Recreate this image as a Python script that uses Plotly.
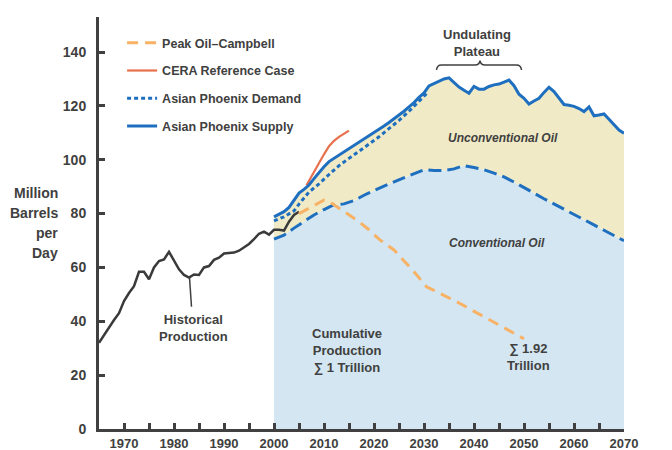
import plotly.graph_objects as go

# ---------------- data ----------------
hist_years = [1965, 1966, 1967, 1968, 1969, 1970, 1971, 1972, 1973, 1974, 1975, 1976, 1977, 1978,
              1979, 1980, 1981, 1982, 1983, 1984, 1985, 1986, 1987, 1988, 1989, 1990, 1991, 1992,
              1993, 1994, 1995, 1996, 1997, 1998, 1999, 2000, 2001, 2002, 2003, 2004, 2005]
hist_values = [32, 35, 38, 40.5, 43, 47.5, 50.5, 53, 58.4, 58.4, 55.6, 60, 62.4, 63,
               65.8, 62.8, 59.3, 57.2, 56.2, 57.4, 57.2, 60, 60.5, 62.8, 63.6, 65.2, 65.3, 65.5,
               66.2, 67.3, 68.7, 70.5, 72.5, 73.3, 72.2, 74, 74, 73.7, 77, 79.5, 80.7]

campbell_years = [2005, 2007, 2010, 2011, 2013, 2015, 2017, 2019, 2021, 2024, 2028, 2030.5, 2032,
                  2037, 2044, 2050]
campbell_values = [80, 82, 85, 84.5, 82, 79.5, 77, 74, 70.5, 66.5, 58.4, 52.8, 51.5,
                   46.8, 39.8, 33.5]

cera_years = [2006.5, 2008, 2009, 2010, 2011, 2012, 2013, 2014, 2015]
cera_values = [90.5, 95.5, 99, 102, 105, 107, 108.5, 109.8, 110.8]

demand_years = [2000, 2002, 2004, 2005, 2007, 2009, 2011, 2013, 2015, 2017, 2019, 2021, 2023,
                2025, 2027, 2029, 2030.5]
demand_values = [77.3, 78.8, 81, 83.5, 88, 91, 94.5, 97.8, 100.5, 103, 105.8, 108.5, 111.5,
                 114.6, 118, 121.8, 124.5]

supply_years = list(range(2000, 2071))
supply_values = [78.8, 79.8, 80.7, 82.3, 85, 87.6, 89, 90.6, 93, 95.3,
                 97.4, 99.3, 100.5, 101.5, 102.6, 103.8, 105, 106.3, 107.6, 108.8,
                 110, 111.2, 112.5, 113.8, 115.1, 116.5, 118, 119.6, 121.2, 123.2,
                 124.8, 127.4, 128.2, 129, 130, 130.4, 128.8, 127, 125.8, 124.7,
                 127.2, 126.2, 126.2, 127.2, 127.8, 128.1, 128.8, 129.6, 127.5, 124.3,
                 122.8, 120.7, 121.8, 122.8, 125, 126.9, 125.3, 122.8, 120.5, 120.2,
                 119.8, 119, 117.9, 119.6, 116.3, 116.6, 117, 115, 113, 111, 109.8]

conv_years = list(range(2000, 2071, 2))
conv_values = [70.5, 72, 74.6, 77, 79.5, 81.5, 83.3, 83.6, 84.8, 86.8,
               88.6, 90.2, 91.8, 93.3, 95, 96.3, 96, 96, 96.6, 97.8,
               97.1, 96.3, 95, 93.6, 91.7, 89.8, 87.6, 85.5, 83.6, 81.8,
               79.9, 78, 75.8, 73.8, 71.8, 69.9]

x_tickvals = list(range(1970, 2071, 5))
x_ticktext = [str(v) if v % 10 == 0 else "" for v in x_tickvals]
y_tickvals = [0, 20, 40, 60, 80, 100, 120, 140]
y_title_lines = ["Million", "Barrels", "per", "Day"]

# ---------------- style ----------------
DARK = "#404040"
BLUE = "#1f6fc0"
FONT = "Liberation Sans, Arial, sans-serif"

fig = go.Figure()

# area fills
fig.add_trace(go.Scatter(x=conv_years, y=conv_values, mode="lines", fill="tozeroy",
                         fillcolor="#d4e6f1", line=dict(width=0), showlegend=False,
                         hoverinfo="skip"))
fig.add_trace(go.Scatter(x=supply_years, y=supply_values, mode="lines", fill="tonexty",
                         fillcolor="#f0ebc6", line=dict(width=0), showlegend=False,
                         hoverinfo="skip"))

# lines
fig.add_trace(go.Scatter(x=hist_years, y=hist_values, mode="lines", name="Historical Production",
                         line=dict(color="#3a3a3a", width=2.5), showlegend=False))
fig.add_trace(go.Scatter(x=conv_years, y=conv_values, mode="lines", name="Conventional",
                         line=dict(color=BLUE, width=3, dash="13px,6px"), showlegend=False))
fig.add_trace(go.Scatter(x=campbell_years, y=campbell_values, mode="lines",
                         name="Peak Oil\u2013Campbell", legendgroup="a", legendrank=1,
                         line=dict(color="#f7b266", width=3, dash="11px,7px")))
fig.add_trace(go.Scatter(x=cera_years, y=cera_values, mode="lines",
                         name="CERA Reference Case", legendgroup="b", legendrank=2,
                         line=dict(color="#e8704c", width=2.2)))
fig.add_trace(go.Scatter(x=demand_years, y=demand_values, mode="lines",
                         name="Asian Phoenix Demand", legendgroup="c", legendrank=3,
                         line=dict(color=BLUE, width=3, dash="4px,3px")))
fig.add_trace(go.Scatter(x=supply_years, y=supply_values, mode="lines",
                         name="Asian Phoenix Supply", legendgroup="d", legendrank=4,
                         line=dict(color=BLUE, width=3)))

# annotations
def ann(text, x, y, size=13, italic=False, xanchor="center", align="center",
        xref="x", yref="y"):
    fig.add_annotation(text=text, x=x, y=y, xref=xref, yref=yref, showarrow=False,
                       xanchor=xanchor, yanchor="middle", align=align,
                       font=dict(family=FONT, size=size, color=DARK, weight="bold",
                                 style="italic" if italic else "normal"))

for i, line in enumerate(y_title_lines):
    ann(line, -0.0743, 0.5728 - i * 0.0485, size=14, xanchor="right", align="right",
        xref="paper", yref="paper")
ann("Historical<br>Production", 1983.8, 37.5)
ann("Cumulative<br>Production<br>\u2211 1 Trillion", 2014.6, 29.1)
ann("Undulating<br>Plateau", 2040.6, 143.5)
ann("Unconventional Oil", 2045.8, 108.1, size=12, italic=True)
ann("Conventional Oil", 2044.6, 69.2, size=12, italic=True)
ann("\u2211 1.92<br>Trillion", 2050.8, 26.9)
ann("\u2211 3.61<br>Trillion", 2070.8, 102.2, xanchor="left", align="left")
ann("\u2211 2.93<br>Trillion", 2071.2, 68.9, xanchor="left", align="left")

# pointer from label to historical curve
fig.add_shape(type="line", x0=1983.1, y0=56.2, x1=1983.5, y1=45.4, xref="x", yref="y",
              line=dict(color=DARK, width=1.5))
# brace over the plateau
fig.add_shape(type="path", xref="x", yref="y",
              path="M 2032.5 133.3 Q 2032.6 135.2 2033.5 135.2 L 2040.2 135.2 "
                   "Q 2041.1 135.2 2041.2 136.8 Q 2041.3 135.2 2042.2 135.2 "
                   "L 2048.5 135.2 Q 2049.4 135.2 2049.5 133.3",
              line=dict(color=DARK, width=1.5))

# the page body adds an 8px offset; margins compensate so the plot lands where intended
fig.update_layout(
    width=672, height=450,
    margin=dict(l=91, r=56, t=9, b=29),
    paper_bgcolor="white", plot_bgcolor="white",
    font=dict(family=FONT, color=DARK),
    legend=dict(x=0.044, y=0.973, xanchor="left", yanchor="top",
                bgcolor="rgba(0,0,0,0)", tracegroupgap=8.5,
                font=dict(family=FONT, size=12.5, color=DARK, weight="bold")),
    xaxis=dict(range=[1965, 2070], tickmode="array", tickvals=x_tickvals,
               ticktext=x_ticktext, ticks="inside", ticklen=6, tickwidth=3,
               tickcolor=DARK, showline=True, linecolor=DARK, linewidth=3,
               showgrid=False, zeroline=False, automargin=False, ticklabelstandoff=0,
               tickfont=dict(family=FONT, size=13, color=DARK, weight="bold")),
    yaxis=dict(range=[0, 153], tickmode="array", tickvals=y_tickvals,
               ticks="inside", ticklen=6, tickwidth=3, tickcolor=DARK,
               showline=True, linecolor=DARK, linewidth=3, showgrid=False,
               zeroline=False, ticklabelstandoff=7, automargin=False,
               tickfont=dict(family=FONT, size=14, color=DARK, weight="bold")),
)

fig.write_html("out.html")
